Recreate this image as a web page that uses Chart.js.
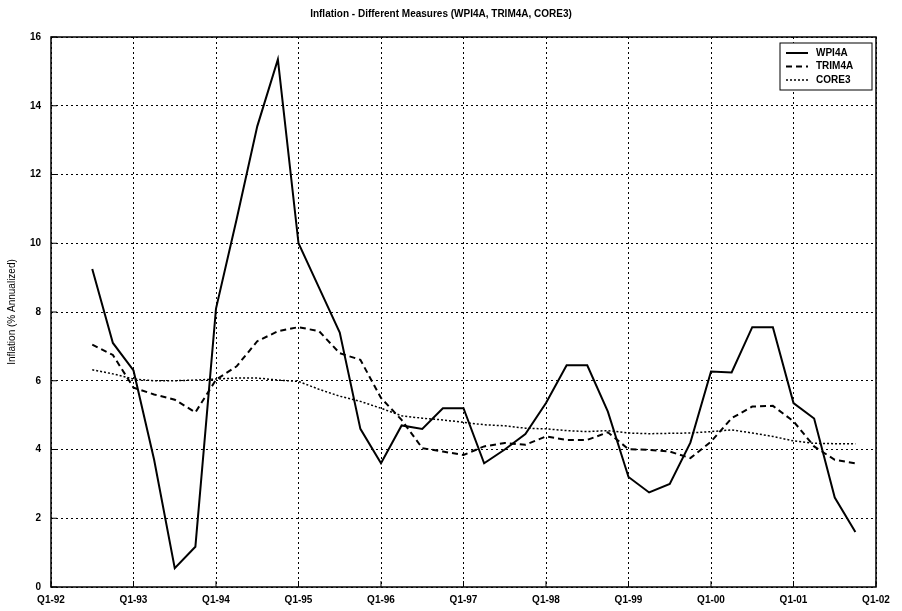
<!DOCTYPE html>
<html>
<head>
<meta charset="utf-8">
<title>Inflation - Different Measures</title>
<script src="https://cdn.jsdelivr.net/npm/chart.js@4/dist/chart.umd.min.js"></script>
<style>
  html, body { margin: 0; padding: 0; background: #fff; }
  #wrap { width: 902px; height: 611px; position: relative; }
</style>
</head>
<body>
<div id="wrap"><canvas id="inflChart"></canvas></div>
<script>
const yearLabels = ['Q1-92', 'Q1-93', 'Q1-94', 'Q1-95', 'Q1-96', 'Q1-97', 'Q1-98', 'Q1-99', 'Q1-00', 'Q1-01', 'Q1-02'];
const yTicks = [0, 2, 4, 6, 8, 10, 12, 14, 16];
// series start in Q3-92 (quarter index 2 from Q1-92)
const firstQuarter = 2;
const wpi4a = [9.25, 7.1, 6.3, 3.7, 0.55, 1.17, 8.1, 10.7, 13.4, 15.35, 10.0, 8.7, 7.4, 4.6, 3.6, 4.7, 4.6, 5.2, 5.2, 3.6,
  4.0, 4.45, 5.35, 6.45, 6.45, 5.1, 3.2, 2.75, 3.0, 4.2, 6.27, 6.24, 7.56, 7.56, 5.35, 4.9, 2.6, 1.6];
const trim4a = [7.05, 6.75, 5.8, 5.6, 5.45, 5.08, 6.03, 6.42, 7.15, 7.44, 7.56, 7.44, 6.8, 6.61, 5.5, 4.86, 4.04, 3.94, 3.84, 4.09,
  4.19, 4.14, 4.38, 4.28, 4.28, 4.5, 4.01, 3.99, 3.94, 3.75, 4.23, 4.91, 5.25, 5.27, 4.82, 4.09, 3.7, 3.6];
const core3 = [6.32, 6.2, 6.05, 6.0, 6.0, 6.02, 6.05, 6.08, 6.08, 6.02, 5.98, 5.75, 5.55, 5.4, 5.2, 4.98, 4.91, 4.86, 4.79, 4.72,
  4.69, 4.62, 4.6, 4.55, 4.52, 4.55, 4.48, 4.46, 4.47, 4.48, 4.52, 4.57, 4.48, 4.38, 4.25, 4.18, 4.17, 4.17];

const toPoints = arr => arr.map((v, i) => ({ x: firstQuarter + i, y: v }));
const FONT = '"Liberation Sans", Arial, sans-serif';

// plot frame, inward tick marks and the boxed legend
const framePlugin = {
  id: 'frame',
  afterDraw(chart) {
    const { ctx, chartArea: a, scales } = chart;
    ctx.save();
    ctx.setLineDash([]);
    ctx.strokeStyle = '#000';
    ctx.lineWidth = 1.5;
    ctx.strokeRect(a.left, a.top, a.right - a.left, a.bottom - a.top);

    ctx.lineWidth = 1;
    ctx.beginPath();
    yearLabels.forEach((_, i) => {
      const x = scales.x.getPixelForValue(i * 4);
      ctx.moveTo(x, a.bottom); ctx.lineTo(x, a.bottom - 6);
    });
    yTicks.forEach(v => {
      const y = scales.y.getPixelForValue(v);
      ctx.moveTo(a.left, y); ctx.lineTo(a.left + 6, y);
    });
    ctx.stroke();

    const bx = a.right - 96, by = a.top + 6, bw = 92, bh = 47;
    ctx.fillStyle = '#fff';
    ctx.fillRect(bx, by, bw, bh);
    ctx.lineWidth = 1;
    ctx.strokeRect(bx, by, bw, bh);
    ctx.font = 'bold 10px ' + FONT;
    ctx.textBaseline = 'middle';
    chart.data.datasets.forEach((ds, i) => {
      const y = by + 10 + i * 13.5;
      ctx.lineWidth = ds.borderWidth;
      ctx.setLineDash(ds.borderDash || []);
      ctx.beginPath();
      ctx.moveTo(bx + 6, y); ctx.lineTo(bx + 28, y);
      ctx.stroke();
      ctx.setLineDash([]);
      ctx.fillStyle = '#000';
      ctx.fillText(ds.label, bx + 36, y);
    });
    ctx.restore();
  }
};

document.addEventListener('DOMContentLoaded', () => {
  const ctx = document.getElementById('inflChart').getContext('2d');
  new Chart(ctx, {
    type: 'line',
    data: {
      datasets: [
        { label: 'WPI4A', data: toPoints(wpi4a), borderColor: '#000', borderWidth: 2, borderDash: [] },
        { label: 'TRIM4A', data: toPoints(trim4a), borderColor: '#000', borderWidth: 2, borderDash: [6, 4] },
        { label: 'CORE3', data: toPoints(core3), borderColor: '#000', borderWidth: 1.5, borderDash: [2, 2] }
      ]
    },
    options: {
      responsive: true,
      maintainAspectRatio: false,
      animation: false,
      elements: { point: { radius: 0 }, line: { tension: 0 } },
      layout: { padding: { left: 6, right: 26, top: 0, bottom: 0 } },
      plugins: {
        legend: { display: false },
        tooltip: { enabled: false },
        title: {
          display: true,
          text: 'Inflation - Different Measures (WPI4A, TRIM4A, CORE3)',
          color: '#000',
          font: { family: FONT, size: 10, weight: 'bold' },
          padding: { top: 8, bottom: 17 }
        }
      },
      scales: {
        x: {
          type: 'linear',
          min: 0,
          max: 40,
          afterFit: s => { s.height = 24; },
          afterBuildTicks: s => { s.ticks = yearLabels.map((_, i) => ({ value: i * 4 })); },
          ticks: {
            callback: v => yearLabels[v / 4],
            color: '#000',
            font: { family: FONT, size: 10, weight: 'bold' },
            padding: 7,
            maxRotation: 0,
            autoSkip: false
          },
          grid: { color: '#000', lineWidth: 1, drawTicks: false },
          border: { display: false, dash: [2, 3] }
        },
        y: {
          min: 0,
          max: 16,
          afterFit: s => { s.width = 45; },
          afterBuildTicks: s => { s.ticks = yTicks.map(v => ({ value: v })); },
          title: {
            display: true,
            text: 'Inflation (% Annualized)',
            color: '#000',
            font: { family: FONT, size: 10 },
            padding: { top: 0, bottom: 4 }
          },
          ticks: {
            color: '#000',
            font: { family: FONT, size: 10, weight: 'bold' },
            padding: 10
          },
          grid: { color: '#000', lineWidth: 1, drawTicks: false },
          border: { display: false, dash: [2, 3] }
        }
      }
    },
    plugins: [framePlugin]
  });
});
</script>
</body>
</html>
